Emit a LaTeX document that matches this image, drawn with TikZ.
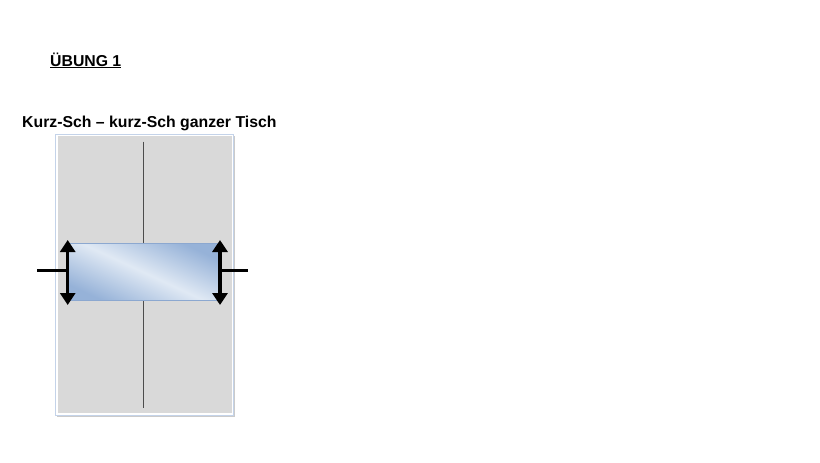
\documentclass[tikz,border=0pt]{standalone}
\usepackage{fontspec}
\setmainfont{Liberation Sans}
\usetikzlibrary{arrows.meta,shadows}
\definecolor{tablegray}{RGB}{217,217,217}
\definecolor{frameblue}{RGB}{196,211,233}
\definecolor{boxlight}{RGB}{224,233,244}
\definecolor{boxdark}{RGB}{150,178,216}
\definecolor{boxedge}{RGB}{140,168,208}
\tikzset{
  titletext/.style={font=\bfseries\fontsize{15.8}{19}\selectfont, inner sep=0pt, anchor=base west},
  tablebox/.style={draw=frameblue, line width=0.8pt, fill=tablegray, inner sep=0pt,
     drop shadow={shadow xshift=1.2pt, shadow yshift=-1.5pt, fill=black!40, opacity=0.5}},
  netline/.style={draw=black!70, line width=0.9pt},
  slidebox/.style={draw=boxedge, line width=1pt, inner sep=0pt},
  bigarrow/.style={line width=3.3pt, {Triangle[width=15pt,length=12pt]}-{Triangle[width=15pt,length=12pt]}},
  stub/.style={line width=3pt}
}
\begin{document}
\begin{tikzpicture}[x=1pt,y=-1pt]
\useasboundingbox (0,0) rectangle (820,463);
\fill[white] (0,0) rectangle (820,463);
% titles
\node[titletext] (t1) at (50,66) {\underline{ÜBUNG 1}};
\node[titletext] (t2) at (22,127) {Kurz-Sch – kurz-Sch ganzer Tisch};
% table
\node[tablebox, minimum width=178pt, minimum height=281pt] (table) at (144.8,274.5) {};
\draw[white, line width=1.2pt] ([xshift=1.5pt,yshift=-1.5pt]table.north west) rectangle ([xshift=-1.5pt,yshift=1.5pt]table.south east);
% net line
\coordinate (ntop) at (143.3,141.7);
\coordinate (nbot) at (143.3,408);
\draw[netline] (ntop) -- (nbot);
% sliding box
\node[slidebox, minimum width=150pt, minimum height=56pt] (box) at (143.3,272) {};
\shade[shading=axis, top color=boxdark, bottom color=boxdark, middle color=boxlight, shading angle=-25]
  ([xshift=0.5pt,yshift=-0.5pt]box.north west) rectangle ([xshift=-0.5pt,yshift=0.5pt]box.south east);
\draw[boxedge, line width=1pt] (box.north west) rectangle (box.south east);
% arrows
\coordinate (lt) at (67.7,240);
\coordinate (lb) at (67.7,305);
\coordinate (rt) at (220,240);
\coordinate (rb) at (220,305);
\coordinate (lstub) at (37.3,270);
\coordinate (rstub) at (248.3,270);
\draw[bigarrow] (lt) -- (lb);
\draw[bigarrow] (rt) -- (rb);
\draw[stub] (lstub) -- (lt |- lstub);
\draw[stub] (rt |- rstub) -- (rstub);
\end{tikzpicture}
\end{document}
